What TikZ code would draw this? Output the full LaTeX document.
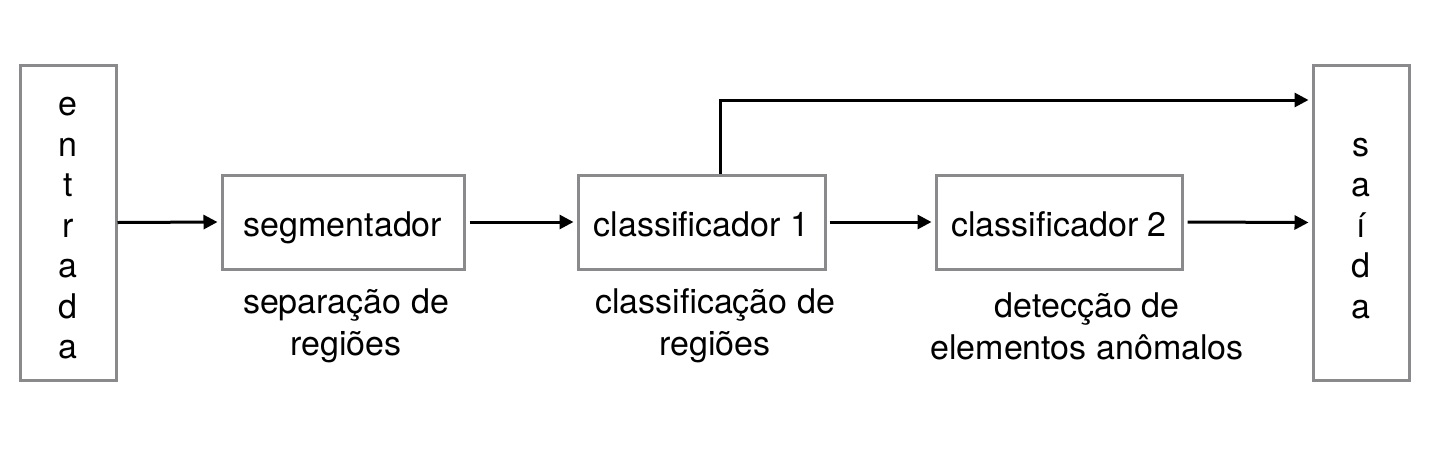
\documentclass[tikz,border=0pt]{standalone}
\usepackage{fontspec}
\setmainfont{TeX Gyre Heros}
\usetikzlibrary{arrows.meta}
\definecolor{cinza}{RGB}{138,138,140}

\begin{document}
\begin{tikzpicture}[x=0.5pt,y=-0.5pt,
	bloco/.style={draw=cinza,line width=1.5pt,inner sep=0pt,align=center,
		font=\fontsize{17pt}{20.25pt}\selectfont,text depth=0pt},
	rotulo/.style={align=center,inner sep=0pt,font=\fontsize{17pt}{21pt}\selectfont},
	seta/.style={line width=1.5pt,-{Triangle[length=7pt,width=7pt]},shorten >=1.5pt}]
	\useasboundingbox (0,0) rectangle (1440,456);

	\node[bloco,minimum width=48pt,minimum height=157.5pt,text height=136.4pt] (ent) at (68, 222.5) {e\\n\\t\\r\\a\\d\\a};
	\node[bloco,minimum width=121pt,minimum height=47pt,text height=14.5pt]    (seg) at (343, 222)  {segmentador};
	\node[bloco,minimum width=123.5pt,minimum height=47pt,text height=14.5pt]  (c1)  at (701.5, 222) {classificador 1};
	\node[bloco,minimum width=123pt,minimum height=47pt,text height=14.5pt]    (c2)  at (1059, 222) {classificador 2};
	\node[bloco,minimum width=48pt,minimum height=157.5pt,text height=95.9pt] (sai) at (1361, 222.5) {s\\a\\í\\d\\a};

	\node[rotulo] (r1) at (346, 326)  {separação de\\regiões};
	\node[rotulo] (r2) at (715, 326)  {classificação de\\regiões};
	\node[rotulo] (r3) at (1087, 326) {detecção de\\elementos anômalos};

	\coordinate (desvio) at (720, 100);

	\draw[seta] (ent.east) -- (seg.west);
	\draw[seta,shorten <=2pt] (seg.east) -- (c1.west);
	\draw[seta,shorten <=1.5pt] (c1.east) -- (c2.west);
	\draw[seta,shorten <=2pt] (c2.east) -- (sai.west);
	\draw[seta] (c1.north -| desvio) |- (sai.west |- desvio);
\end{tikzpicture}
\end{document}
